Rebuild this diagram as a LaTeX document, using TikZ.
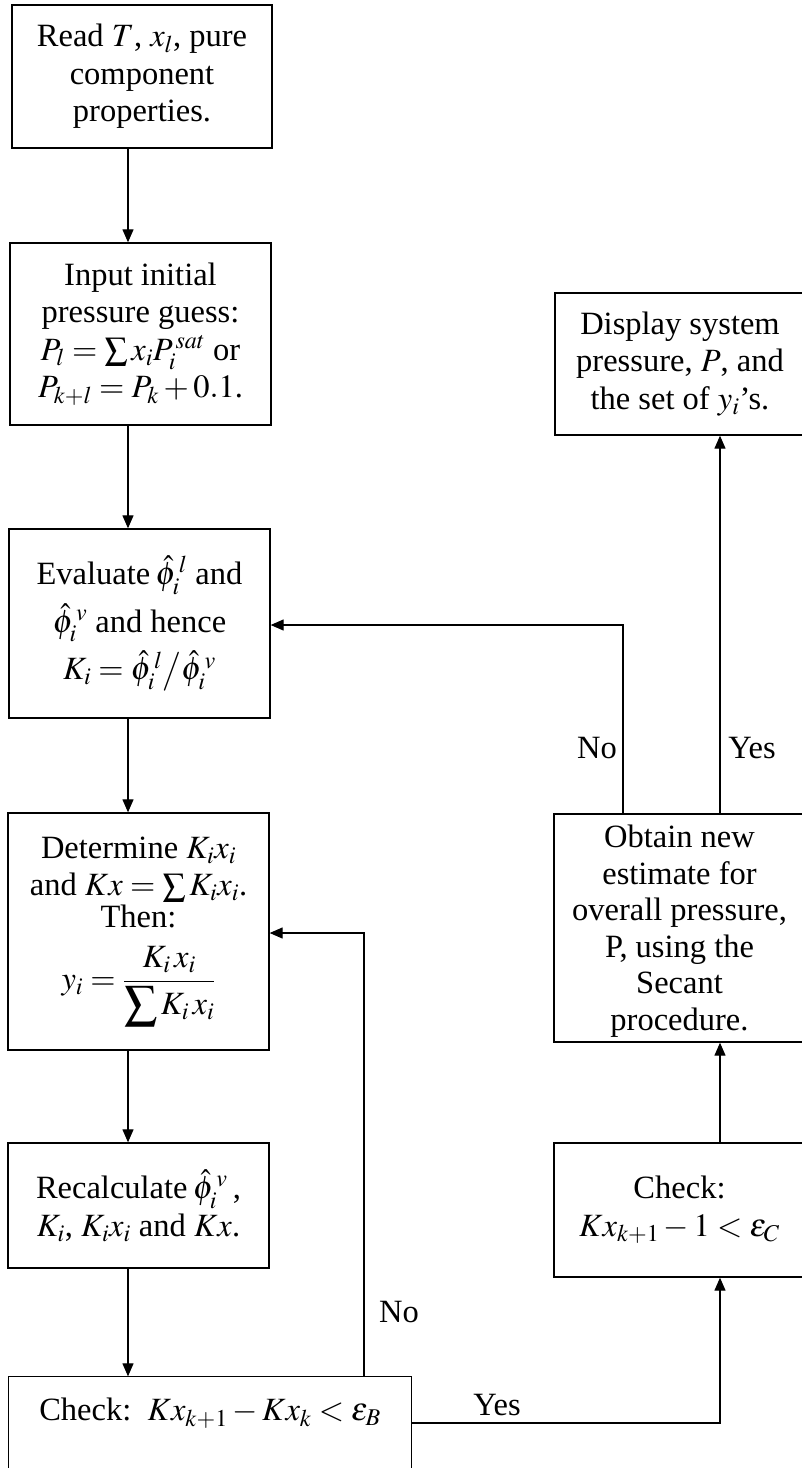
\documentclass[tikz,border=0pt]{standalone}
\usepackage{mathptmx}
\usepackage{fontspec}
\setmainfont{Liberation Serif}
\usetikzlibrary{arrows.meta}
\begin{document}
\begin{tikzpicture}[x=1pt,y=-1pt,
  box/.style={draw, line width=1.3pt, rectangle, inner sep=0pt, align=center,
    font=\fontsize{32.5}{37.5}\selectfont},
  txt/.style={inner sep=0pt, align=center, font=\fontsize{32.5}{36.5}\selectfont},
  arr/.style={draw, line width=1.2pt, -{Triangle[length=13pt,width=11pt]}},
  wire/.style={draw, line width=1.2pt},
  lbl/.style={font=\fontsize{32.5}{37.5}\selectfont, inner sep=0pt}]
\useasboundingbox (0,0) rectangle (802,1468);

% left column
\node[box, minimum width=260pt, minimum height=143pt] (b1) at (142,76.5)
  {Read $T$, $x_{l}$, pure\\ component\\ properties.};
\node[box, minimum width=261pt, minimum height=182pt] (b2) at (140.5,334)
  {Input initial\\ pressure guess:\\ $P_{l}= \sum x_i P_i^{\,sat}$ or\\ $P_{k+l} = P_k + 0.1$.};
\node[box, minimum width=261pt, minimum height=189pt] (b3) at (139.5,623.5)
  {Evaluate\,$\hat{\phi}_i^{\,l}$ and\\[8pt] $\hat{\phi}_i^{\,v}$ and hence\\[8pt] $K_i = \hat{\phi}_i^{\,l}\big/\hat{\phi}_i^{\,v}$};
\node[box, minimum width=261pt, minimum height=237pt] (b4) at (138.5,931.5)
  {Determine $K_i x_i$\\ and $Kx = \sum K_i x_i$.\\[-6pt] Then:\\[18pt]
   $\displaystyle y_i = \frac{K_i\, x_i}{\displaystyle\sum K_i\, x_i}$};
\node[box, minimum width=261pt, minimum height=125pt] (b5) at (138.5,1205.5)
  {Recalculate\,$\hat{\phi}_i^{\,v}$\,,\\ $K_i$, $K_i x_i$ and $Kx$.};
\node[box, draw=none, minimum width=402pt, minimum height=72pt] (b6) at (210,1413)
  {Check:\ \ $Kx_{k+1} - Kx_k < \varepsilon_B$};
\draw[wire] ([yshift=-80pt]b6.south west) |- (b6.north east) -- ([yshift=-80pt]b6.south east);

% right column
\node[box, minimum width=250pt, minimum height=142pt] (disp) at (680,364)
  {Display system\\ pressure, $P$, and\\ the set of $y_i$'s.};
\node[box, minimum width=251pt, minimum height=228pt] (ob) at (679.5,928) {};
\node[txt] (obtext) at ([yshift=-3pt]ob.center)
  {Obtain new\\ estimate for\\ overall pressure,\\ P, using the\\ Secant\\ procedure.};
\node[box, minimum width=251pt, minimum height=134pt] (c2) at (679.5,1210)
  {Check:\\ $Kx_{k+1} - 1 < \varepsilon_C$};

% routing points
\coordinate (ax) at (128,0);
\coordinate (n1) at (364,933);
\coordinate (yx) at (720,1423);
\coordinate (nx) at (623,625);

% main downward flow
\draw[arr] (b1.south -| ax) -- (b2.north -| ax);
\draw[arr] (b2.south -| ax) -- (b3.north -| ax);
\draw[arr] (b3.south -| ax) -- (b4.north -| ax);
\draw[arr] (b4.south -| ax) -- (b5.north -| ax);
\draw[arr] (b5.south -| ax) -- (b6.north -| ax);

% inner loop: not converged
\draw[arr] (b6.north -| n1) -- (n1) -- (n1 -| b4.east);
% converged: go to overall check
\draw[arr] (yx -| b6.east) -- (yx) -- (yx |- c2.south);
\draw[arr] (c2.north -| yx) -- (ob.south -| yx);
\draw[arr] (ob.north -| yx) -- (disp.south -| yx);
% outer loop: new pressure
\draw[arr] (ob.north -| nx) -- (nx) -- (nx -| b3.east);

% labels
\node[lbl] (lno1) at (399,1312) {No};
\node[lbl] (lyes1) at (497,1405) {Yes};
\node[lbl] (lno2) at (597,748) {No};
\node[lbl] (lyes2) at (752,748) {Yes};
\end{tikzpicture}
\end{document}
